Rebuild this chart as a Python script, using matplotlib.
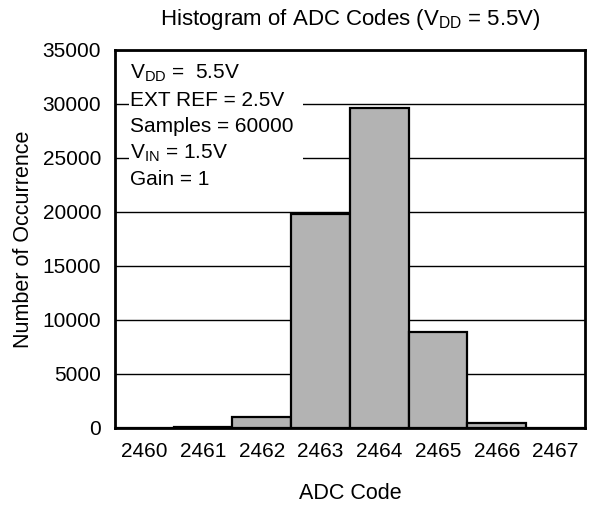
import matplotlib.pyplot as plt
from matplotlib.patches import Rectangle

plt.rcParams['font.family'] = ['Liberation Sans', 'DejaVu Sans']
plt.rcParams['mathtext.fontset'] = 'custom'
plt.rcParams['mathtext.rm'] = 'Liberation Sans'
plt.rcParams['mathtext.it'] = 'Liberation Sans:italic'
plt.rcParams['mathtext.bf'] = 'Liberation Sans:bold'

# histogram data
codes = [2460, 2461, 2462, 2463, 2464, 2465, 2466, 2467]
counts = [0, 60, 1060, 19800, 29600, 8900, 500, 0]
y_ticks = [0, 5000, 10000, 15000, 20000, 25000, 30000, 35000]
notes = [r'V$_{\mathrm{DD}}$ =  5.5V', 'EXT REF = 2.5V', 'Samples = 60000',
         r'V$_{\mathrm{IN}}$ = 1.5V', 'Gain = 1']

fig = plt.figure(figsize=(5.94, 5.05), dpi=100)
ax = fig.add_axes([0.1936, 0.1525, 0.7912, 0.7485])

ax.bar(codes, counts, width=1.0, color='#b3b3b3', edgecolor='black',
       linewidth=1.6, zorder=2)

ax.set_xlim(codes[0] - 0.5, codes[-1] + 0.5)
ax.set_ylim(0, 35000)
ax.set_xticks(codes)
ax.set_xticklabels([str(c) for c in codes])
ax.set_yticks(y_ticks)
ax.tick_params(length=0, labelsize=15)
ax.tick_params(axis='y', pad=10)
ax.tick_params(axis='x', pad=10)
ax.yaxis.grid(True, color='black', linewidth=1.0)
ax.set_axisbelow(True)
for s in ax.spines.values():
    s.set_linewidth(2)

ax.set_title(r'Histogram of ADC Codes (V$_{\mathrm{DD}}$ = 5.5V)', fontsize=16, pad=18)
ax.set_xlabel('ADC Code', fontsize=15.5, labelpad=16)
ax.set_ylabel('Number of Occurrence', fontsize=15.5, labelpad=6)

# white box behind the condition notes hides the gridlines
ax.add_patch(Rectangle((0.03, 0.616), 0.37, 0.358, transform=ax.transAxes,
                       facecolor='white', edgecolor='none', zorder=3))
for i, line in enumerate(notes):
    ax.text(0.032, 0.923 - i * 0.0701, line, transform=ax.transAxes,
            fontsize=15, va='baseline', ha='left', zorder=4)

fig.savefig('out.png', dpi=100)
